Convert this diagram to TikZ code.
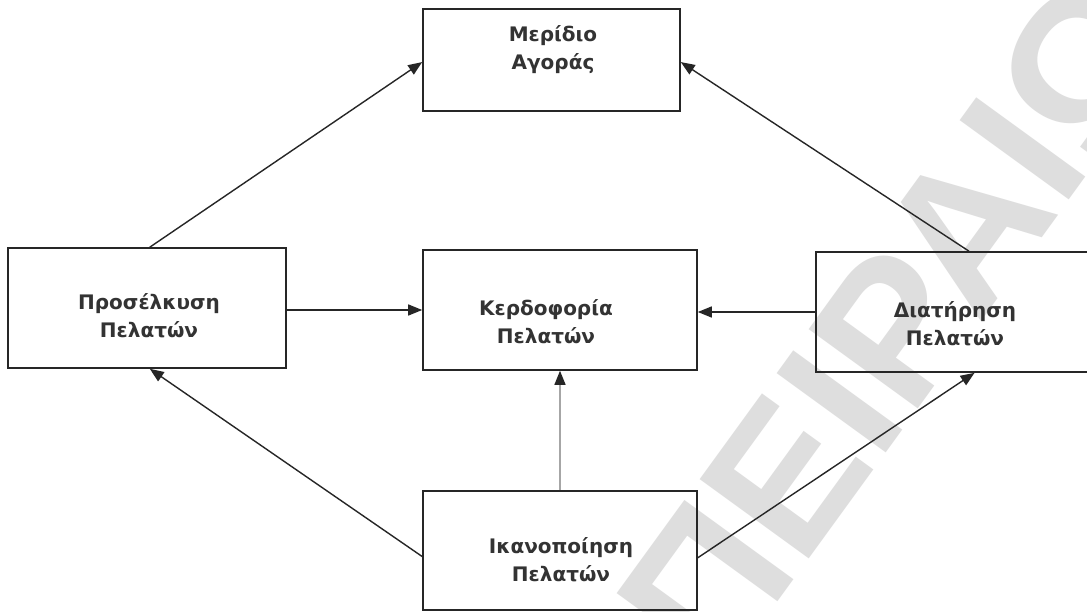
\documentclass[tikz,border=0pt]{standalone}
\usepackage{fontspec}
\setmainfont{DejaVu Sans}
\newfontfamily\wmfont{Liberation Sans}
\usetikzlibrary{arrows.meta,calc}
\begin{document}
\begin{tikzpicture}[x=1pt,y=-1pt,
  box/.style={draw=black!85, line width=1.6pt, inner sep=0pt},
  lbl/.style={align=center, text=black!80, inner sep=0pt,
    font=\bfseries\fontsize{20}{28}\selectfont},
  conn/.style={draw=black!85, line width=1.4pt,
    -{Triangle[length=14pt,width=11pt]}},
  faint/.style={draw=black!35, line width=1.2pt},
  watermark/.style={text=black!13, inner sep=0pt,
    font=\wmfont\bfseries\fontsize{196}{196}\selectfont}]

\useasboundingbox (0,0) rectangle (1087,612);
\fill[white] (0,0) rectangle (1087,612);

% faint diagonal watermark behind the diagram
\begin{scope}
  \clip (0,0) rectangle (1087,612);
  \node[watermark, rotate=54, anchor=base west] (wm) at (718,684) {ΠΕΙΡΑΙΩΣ};
\end{scope}

% boxes
\node[box, minimum width=257pt, minimum height=102pt] (m) at (551.5,60) {};
\node[box, minimum width=278pt, minimum height=120pt] (p) at (147,308) {};
\node[box, minimum width=274pt, minimum height=120pt] (k) at (560,310) {};
\begin{scope}
  \clip (0,0) rectangle (1087,612);
  \node[box, minimum width=278pt, minimum height=120pt] (d) at (955,312) {};
\end{scope}
\node[box, minimum width=274pt, minimum height=119pt] (i) at (560,550.5) {};

% labels
\node[lbl] (mt) at (553,50) {Μερίδιο\\Αγοράς};
\node[lbl] (pt) at (149,316) {Προσέλκυση\\Πελατών};
\node[lbl] (kt) at (546,322) {Κερδοφορία\\Πελατών};
\node[lbl] (dt) at (955,324) {Διατήρηση\\Πελατών};
\node[lbl] (it) at (561,560) {Ικανοποίηση\\Πελατών};

% connector end points on the box sides
\coordinate (pN) at ($(p.north west)!0.51!(p.north east)$);
\coordinate (dN) at ($(d.north west)!0.55!(d.north east)$);
\coordinate (mW) at ($(m.north west)!0.52!(m.south west)$);
\coordinate (mE) at ($(m.north east)!0.52!(m.south east)$);
\coordinate (pS) at ($(p.south west)!0.51!(p.south east)$);
\coordinate (dS) at ($(d.south west)!0.57!(d.south east)$);
\coordinate (iW) at ($(i.north west)!0.55!(i.south west)$);
\coordinate (iE) at ($(i.north east)!0.56!(i.south east)$);
\coordinate (kS) at ($(k.south west)!0.50!(k.south east)$);
\coordinate (iN) at ($(i.north west)!0.50!(i.north east)$);

\draw[conn] (pN) -- (mW);
\draw[conn] (dN) -- (mE);
\draw[conn] (p.east |- k.west) -- (k.west);
\draw[conn] (d.west) -- (k.east |- d.west);
% pale shaft with a dark head
\draw[faint] (iN) -- ($(kS)+(0,12)$);
\draw[conn] ($(kS)+(0,14)$) -- (kS);
\draw[conn] (iW) -- (pS);
\draw[conn] (iE) -- (dS);
\end{tikzpicture}
\end{document}
